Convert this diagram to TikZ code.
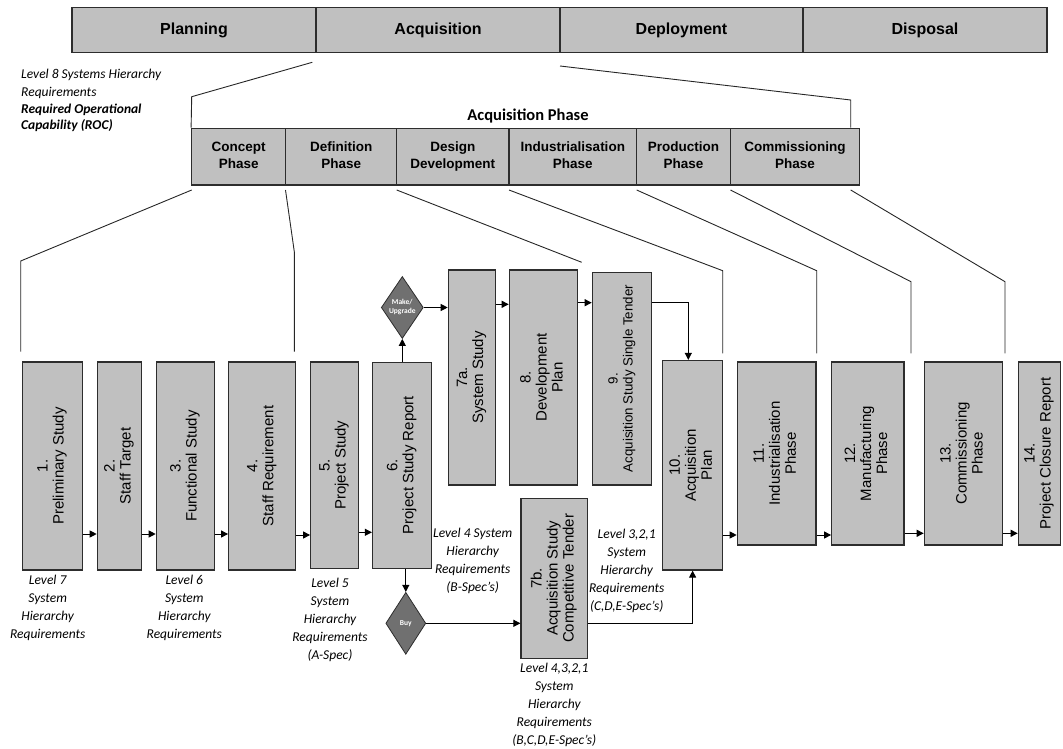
\documentclass[tikz,border=0pt]{standalone}
\usepackage{fontspec}
\setmainfont{Liberation Sans}
\newfontfamily\calfont{Carlito}
\usetikzlibrary{arrows.meta,shapes.geometric,calc}
\definecolor{boxgray}{RGB}{192,192,192}
\definecolor{diagray}{RGB}{112,112,112}
\definecolor{edge}{RGB}{45,45,45}
\newcommand\boxat[7][]{\node[#1, minimum width={(#5)-(#3)}, minimum height={(#6)-(#4)}] (#2) at ({((#3)+(#5))/2},{((#4)+(#6))/2}) {#7};}
\newcommand\vt[1]{\rotatebox{90}{\begin{tabular}{@{}c@{}}#1\end{tabular}}}
\newcommand\ph{\vphantom{Apg}}
\tikzset{
  barbox/.style={rectangle, draw=edge, line width=1.2pt, fill=boxgray, inner sep=0pt, align=center,
    font=\fontsize{16}{19}\selectfont\bfseries},
  phbox/.style={rectangle, draw=edge, line width=1.2pt, fill=boxgray, inner sep=0pt, align=center,
    font=\fontsize{13.5}{16.5}\selectfont\bfseries},
  stepbox/.style={rectangle, draw=edge, line width=1.2pt, fill=boxgray, inner sep=0pt,
    font=\fontsize{15}{16}\selectfont},
  dia/.style={diamond, draw=edge, fill=diagray, line width=0.8pt, minimum width=40pt, minimum height=62pt,
    inner sep=0pt, text=white, align=center, font=\calfont\bfseries\fontsize{7.5}{9}\selectfont},
  arr/.style={-{Triangle[length=7pt,width=7pt]}, line width=1pt, black},
  pline/.style={line width=0.9pt, black!85},
  lab/.style={font=\calfont\itshape\fontsize{13.5}{18}\selectfont, align=center, inner sep=0pt, anchor=north},
}
\begin{document}
\begin{tikzpicture}[x=1pt,y=-1pt]
\useasboundingbox (0,0) rectangle (1063,749);

% top life-cycle bar
\boxat[barbox]{pl}{72}{7.6}{316}{52.7}{Planning}
\boxat[barbox]{ac}{316}{7.6}{560}{52.7}{Acquisition}
\boxat[barbox]{de}{560}{7.6}{803}{52.7}{Deployment}
\boxat[barbox]{di}{803}{7.6}{1047}{52.7}{Disposal}

% top-left notes
\node[font=\calfont\itshape\fontsize{13.5}{18}\selectfont, align=left, inner sep=0pt, anchor=north west] (tl1) at (21,69) {Level 8 Systems Hierarchy\\Requirements};
\node[font=\calfont\itshape\bfseries\fontsize{13.5}{16}\selectfont, align=left, inner sep=0pt, anchor=north west] (tl2) at (21,103.5) {Required Operational\\Capability (ROC)};

% acquisition phase row
\node[font=\calfont\bfseries\fontsize{16.5}{19}\selectfont, anchor=base, inner sep=0pt] (aqp) at (528,120.7) {Acquisition Phase};
\boxat[phbox]{p1}{191.7}{128.3}{285.7}{185}{Concept\ph\\Phase\ph}
\boxat[phbox]{p2}{285.7}{128.3}{396.7}{185}{Definition\ph\\Phase\ph}
\boxat[phbox]{p3}{396.7}{128.3}{509}{185}{Design\ph\\Development\ph}
\boxat[phbox]{p4}{509}{128.3}{636.7}{185}{Industrialisation\ph\\Phase\ph}
\boxat[phbox]{p5}{636.7}{128.3}{730.5}{185}{Production\ph\\Phase\ph}
\boxat[phbox]{p6}{730.5}{128.3}{859.3}{185}{Commissioning\ph\\Phase\ph}

% steps
\boxat[stepbox]{b1}{22.3}{362}{82.7}{570}{\vt{1.\\Preliminary Study}}
\boxat[stepbox]{b2}{97.3}{362}{141.7}{570}{\vt{2.\\Staff Target}}
\boxat[stepbox]{b3}{156.3}{362}{214.3}{570}{\vt{3.\\Functional Study}}
\boxat[stepbox]{b4}{228.7}{362}{295.7}{570}{\vt{4.\\Staff Requirement}}
\boxat[stepbox]{b5}{310.7}{362}{358.3}{568.3}{\vt{5.\\Project Study}}
\boxat[stepbox]{b6}{372.5}{362.3}{431.7}{568.3}{\vt{6.\\Project Study Report}}
\boxat[stepbox]{b7a}{448.3}{270}{495.7}{485}{\vt{7a.\\System Study}}
\boxat[stepbox]{b8}{509.3}{270}{577.7}{485}{\vt{8.\\Development\\Plan}}
\boxat[stepbox, font=\fontsize{13.3}{15}\selectfont]{b9}{592.3}{272.3}{651.7}{485}{\vt{9.\\Acquisition Study Single Tender}}
\boxat[stepbox]{b7b}{521}{498.3}{587.7}{658.3}{\vt{7b.\\Acquisition Study\\Competitive Tender}}
\boxat[stepbox]{b10}{662.5}{360.5}{722.7}{570}{\vt{10.\\Acquisition\\Plan}}
\boxat[stepbox]{b11}{737.3}{362}{816}{545}{\vt{11.\\Industrialisation\\Phase}}
\boxat[stepbox]{b12}{831.7}{362}{904}{545}{\vt{12.\\Manufacturing\\Phase}}
\boxat[stepbox]{b13}{924.3}{362}{1002.7}{545}{\vt{13.\\Commissioning\\Phase}}
\boxat[stepbox]{b14}{1018.3}{362}{1060.5}{545}{\vt{14.\\Project Closure Report}}

% decisions
\node[dia] (mk) at (402.3,307.5) {Make/\\Upgrade};
\node[dia] (buy) at (405.8,623.3) {Buy};

% arrows
\coordinate (ya) at (0,534);
\coordinate (yb) at (0,532.3);
\coordinate (yc) at (0,535);
\coordinate (yd) at (0,533.3);
\coordinate (ye) at (0,304.3);
\coordinate (yf) at (0,302.7);
\draw[arr] (b1.east |- ya) -- (b2.west |- ya);
\draw[arr] (b2.east |- ya) -- (b3.west |- ya);
\draw[arr] (b3.east |- ya) -- (b4.west |- ya);
\draw[arr] (b4.east |- yc) -- (b5.west |- yc);
\draw[arr] (b5.east |- yb) -- (b6.west |- yb);
\draw[arr] (mk.south |- b6.north) -- (mk.south);
\draw[arr] (mk.east) -- (b7a.west |- mk.east);
\draw[arr] (b7a.east |- ye) -- (b8.west |- ye);
\draw[arr] (b8.east |- yf) -- (b9.west |- yf);
\draw[arr] (b9.east |- yf) -| ([xshift=-4.3pt]b10.north);
\draw[arr] (buy.north |- b6.south) -- (buy.north);
\draw[arr] (buy.east) -- (b7b.west |- buy.east);
\draw[arr] (b7b.east |- buy.east) -| (b10.south);
\draw[arr] (b10.east |- yc) -- (b11.west |- yc);
\draw[arr] (b11.east |- yc) -- (b12.west |- yc);
\draw[arr] (b12.east |- yd) -- (b13.west |- yd);
\draw[arr] (b13.east |- yd) -- (b14.west |- yd);

% expansion lines
\coordinate (a1) at (312.3,62.3);
\coordinate (a2) at (191.7,96.7);
\coordinate (a3) at (560,66);
\coordinate (a4) at (850.7,100);
\draw[pline] (a1) -- (a2) -- (p1.north west);
\draw[pline] (a3) -- (a4) -- (a4 |- p6.north);

\coordinate (c1) at (191.7,190);  \coordinate (c1b) at (20.7,261);   \coordinate (c1e) at (20.7,351.7);
\coordinate (c2) at (285.5,190);  \coordinate (c2b) at (294.3,251.7); \coordinate (c2e) at (294.3,351.7);
\coordinate (c3) at (396.7,190);  \coordinate (c3e) at (581.7,262.3);
\coordinate (c4) at (509,190);    \coordinate (c4b) at (722.7,270.7); \coordinate (c4e) at (722.7,353.3);
\coordinate (c5) at (636.7,190);  \coordinate (c5b) at (816.7,270.7); \coordinate (c5e) at (816.7,353.3);
\coordinate (c6) at (730.5,190);  \coordinate (c6b) at (911,281.7);   \coordinate (c6e) at (911,353.3);
\coordinate (c7) at (850.7,190);  \coordinate (c7b) at (1005,281.7);  \coordinate (c7e) at (1005,353.3);
\draw[pline] (c1) -- (c1b) -- (c1e);
\draw[pline] (c2) -- (c2b) -- (c2e);
\draw[pline] (c3) -- (c3e);
\draw[pline] (c4) -- (c4b) -- (c4e);
\draw[pline] (c5) -- (c5b) -- (c5e);
\draw[pline] (c6) -- (c6b) -- (c6e);
\draw[pline] (c7) -- (c7b) -- (c7e);

% requirement labels
\node[lab] (l7) at (47.7,575) {Level 7\\System\\Hierarchy\\Requirements};
\node[lab] (l6) at (184.3,575) {Level 6\\System\\Hierarchy\\Requirements};
\node[lab] (l5) at (330,578) {Level 5\\System\\Hierarchy\\Requirements\\(A-Spec)};
\node[lab] (l4) at (472.7,528) {Level 4 System\\Hierarchy\\Requirements\\(B-Spec’s)};
\node[lab] (l321) at (626.7,529.3) {Level 3,2,1\\System\\Hierarchy\\Requirements\\(C,D,E-Spec’s)};
\node[lab] (l4321) at (554.3,663.3) {Level 4,3,2,1\\System\\Hierarchy\\Requirements\\(B,C,D,E-Spec’s)};
\end{tikzpicture}
\end{document}
